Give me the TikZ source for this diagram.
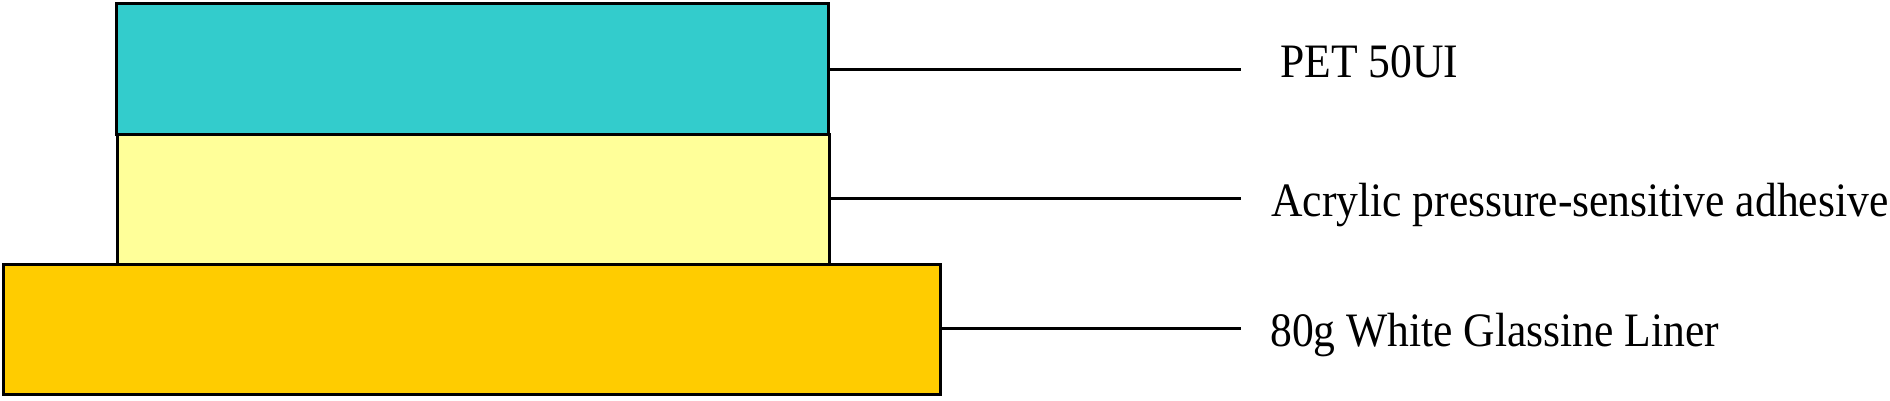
\documentclass[tikz,border=0pt]{standalone}
\usepackage{fontspec}
\setmainfont{Liberation Serif}
\usepackage{graphicx}
\definecolor{petc}{HTML}{33CCCC}
\definecolor{adhc}{HTML}{FFFF99}
\definecolor{linc}{HTML}{FFCC00}
\begin{document}
\begin{tikzpicture}[x=1pt,y=1pt,
  layerbox/.style={draw=black, line width=3pt, inner sep=0pt, outer sep=0pt, minimum height=130pt},
  leader/.style={draw=black, line width=3pt},
  lbl/.style={anchor=base west, inner sep=0pt, font=\fontsize{48}{48}\selectfont}]
\useasboundingbox (0,0) rectangle (1890,400);
\node[layerbox, fill=petc, minimum width=712pt, minimum height=130.5pt] (pet) at (472,331.25) {};
\node[layerbox, fill=adhc, minimum width=712pt] (adh) at (473,201) {};
\node[layerbox, fill=linc, minimum width=937pt] (lin) at (471.5,71) {};
\coordinate (e1) at (1241,331);
\coordinate (e2) at (1241,202);
\coordinate (e3) at (1241,72);
\draw[leader] (pet.east |- e1) -- (e1);
\draw[leader] (adh.east |- e2) -- (e2);
\draw[leader] (lin.east |- e3) -- (e3);
\node[lbl] (t1) at (1280,322.3) {\scalebox{0.908}[1]{PET 50UI}};
\node[lbl] (t2) at (1271,184) {\scalebox{0.908}[1]{Acrylic pressure-sensitive adhesive}};
\node[lbl] (t3) at (1270,54) {\scalebox{0.908}[1]{80g White Glassine Liner}};
\end{tikzpicture}
\end{document}
